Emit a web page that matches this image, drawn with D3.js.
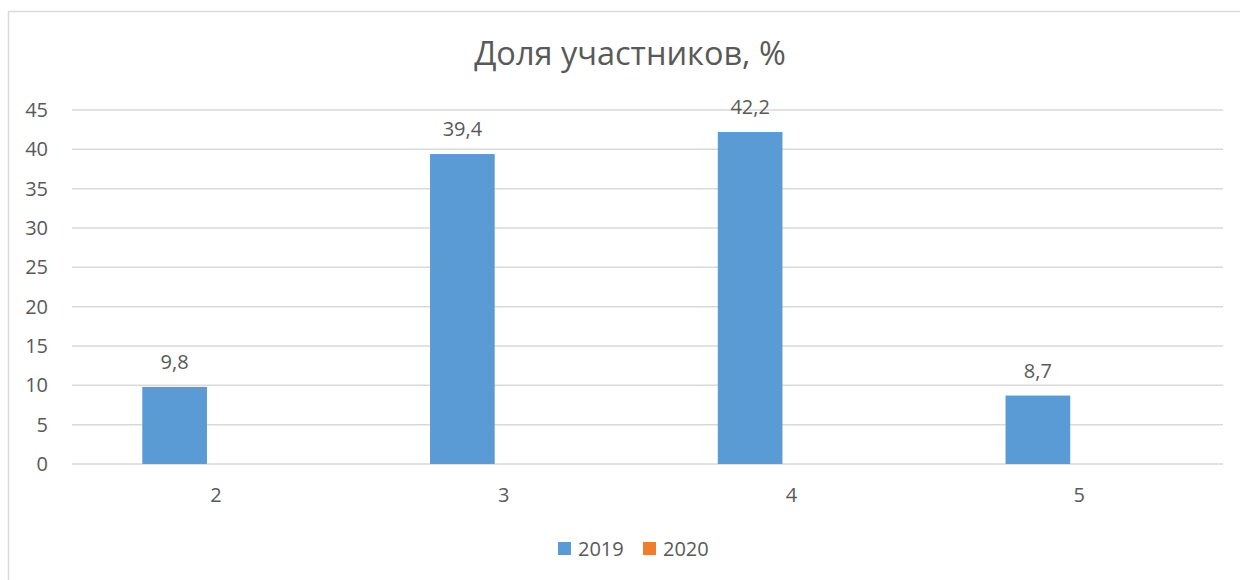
<!DOCTYPE html>
<html lang="ru">
<head>
  <meta charset="UTF-8">
  <title>Доля участников, %</title>
  <script src="https://d3js.org/d3.v7.min.js"></script>
  <style>
    body { margin: 0; background: #fff; }
    svg text { font-family: "Open Sans", sans-serif; fill: #595959; }
  </style>
</head>
<body>
  <svg width="1240" height="580"></svg>
  <script>
    // chart data
    const categories = ["2", "3", "4", "5"];
    const seriesNames = ["2019", "2020"];
    const values2019 = [9.8, 39.4, 42.2, 8.7];
    const values2020 = [null, null, null, null];
    const yTicks = [0, 5, 10, 15, 20, 25, 30, 35, 40, 45];
    const colors = ["#5B9BD5", "#ED7D31"];

    const width = 1240, height = 580;
    const margin = { left: 72, right: 17, top: 110, bottom: 116 };

    const svg = d3.select("svg");

    // chart frame (runs off the right and bottom edge like the source)
    svg.append("rect")
       .attr("x", 8.5).attr("y", 11.5)
       .attr("width", 1260).attr("height", 620)
       .attr("fill", "none")
       .attr("stroke", "#d9d9d9")
       .attr("stroke-width", 1.5);

    const x0 = d3.scaleBand()
                 .domain(categories)
                 .range([margin.left, width - margin.right])
                 .paddingInner(0.4885)
                 .paddingOuter(0.24425);

    const x1 = d3.scaleBand()
                 .domain(seriesNames)
                 .range([0, x0.bandwidth()])
                 .paddingInner(0.216);

    const y = d3.scaleLinear()
                .domain([0, 45])
                .range([height - margin.bottom, margin.top]);

    // gridlines
    svg.append("g")
       .selectAll("line")
       .data(yTicks)
       .enter()
       .append("line")
       .attr("x1", margin.left)
       .attr("x2", width - margin.right)
       .attr("y1", d => y(d))
       .attr("y2", d => y(d))
       .attr("stroke", "#d9d9d9")
       .attr("stroke-width", 1.5);

    // y axis labels
    const yAxis = svg.append("g")
       .attr("transform", "translate(" + (margin.left - 12) + ",0)")
       .call(d3.axisLeft(y).tickValues(yTicks).tickSize(0).tickPadding(12));
    yAxis.select(".domain").remove();
    yAxis.selectAll("text").style("font-size", "20px").attr("fill", "#595959");

    // x axis labels
    const xAxis = svg.append("g")
       .attr("transform", "translate(0," + y(0) + ")")
       .call(d3.axisBottom(x0).tickSize(0).tickPadding(24));
    xAxis.select(".domain").remove();
    xAxis.selectAll("text").style("font-size", "20px").attr("fill", "#595959");

    // bars
    const rows = categories.map((c, i) => ({
      cat: c,
      vals: [
        { name: "2019", v: values2019[i] },
        { name: "2020", v: values2020[i] }
      ]
    }));

    const groups = svg.append("g")
       .selectAll("g")
       .data(rows)
       .enter()
       .append("g")
       .attr("transform", d => "translate(" + x0(d.cat) + ",0)");

    groups.selectAll("rect")
       .data(d => d.vals.filter(v => v.v != null))
       .enter()
       .append("rect")
       .attr("x", d => x1(d.name))
       .attr("width", x1.bandwidth())
       .attr("y", d => y(d.v))
       .attr("height", d => y(0) - y(d.v))
       .attr("fill", d => colors[seriesNames.indexOf(d.name)]);

    // data labels
    groups.selectAll("text.lbl")
       .data(d => d.vals.filter(v => v.v != null))
       .enter()
       .append("text")
       .attr("class", "lbl")
       .attr("x", d => x1(d.name) + x1.bandwidth() / 2)
       .attr("y", d => y(d.v) - 18)
       .attr("text-anchor", "middle")
       .style("font-size", "20px")
       .text(d => String(d.v).replace(".", ","));

    // title
    svg.append("text")
       .attr("x", 630)
       .attr("y", 65)
       .attr("text-anchor", "middle")
       .style("font-size", "32.5px")
       .text("Доля участников, %");

    // legend
    const legend = svg.append("g").attr("transform", "translate(558,542)");
    seriesNames.forEach((s, i) => {
      const row = legend.append("g").attr("transform", "translate(" + (i * 85) + ",0)");
      row.append("rect")
         .attr("width", 13)
         .attr("height", 13)
         .attr("fill", colors[i]);
      row.append("text")
         .attr("x", 20)
         .attr("y", 14)
         .style("font-size", "20px")
         .text(s);
    });
  </script>
</body>
</html>
